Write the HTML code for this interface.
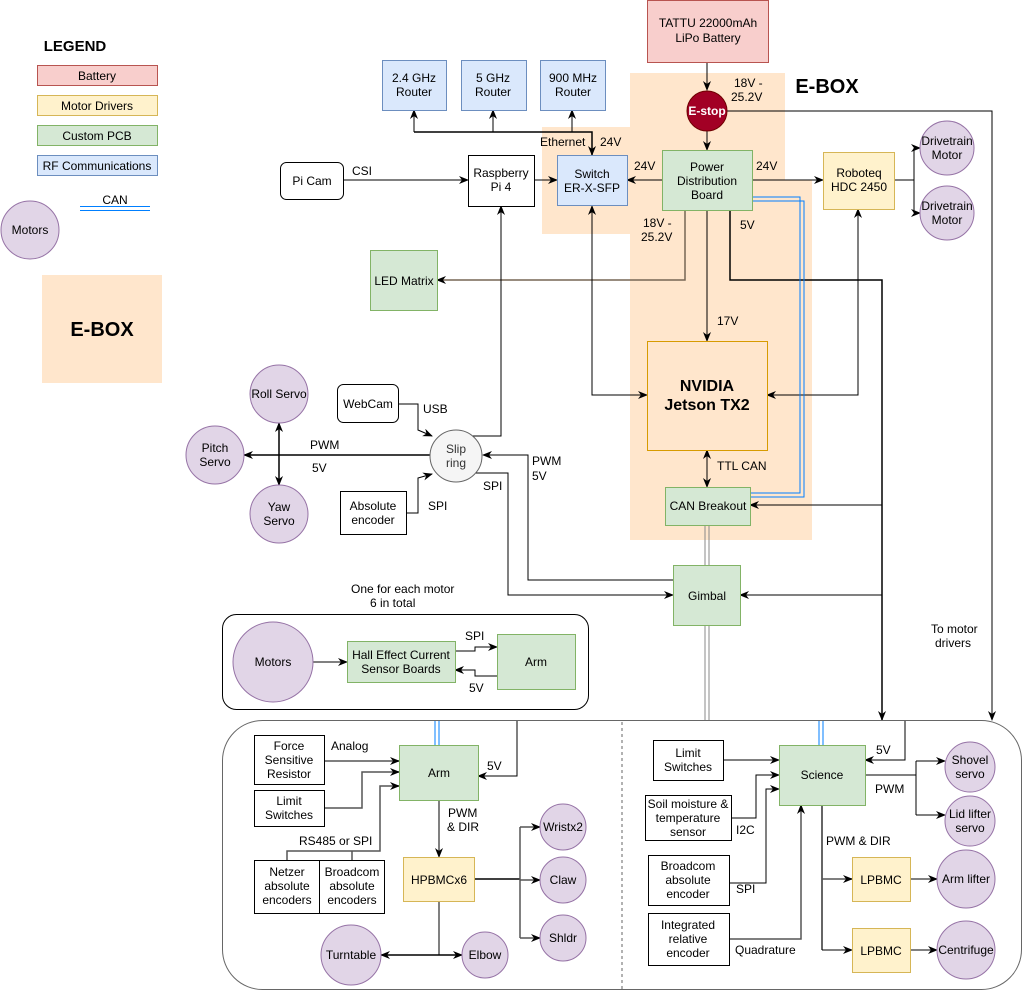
<!DOCTYPE html>
<html><head><meta charset="utf-8"><style>
html,body{margin:0;padding:0;background:#fff;}
svg{display:block;font-family:"Liberation Sans",sans-serif;font-size:12px;}
</style></head><body>
<svg width="1023" height="993" viewBox="0 0 1023 993" xmlns="http://www.w3.org/2000/svg">
<defs>
<marker id="a" markerWidth="10" markerHeight="10" refX="9" refY="5" orient="auto-start-reverse" markerUnits="userSpaceOnUse">
<path d="M0,1 L10,5 L0,9 L3,5 Z" fill="#000"/></marker>
</defs>
<!-- E-BOX background -->
<polygon points="630,73 785,73 785,180 812,180 812,540 630,540 630,234 542,234 542,127 630,127" fill="#ffe6cc"/>
<text x="827" y="93" font-size="20" font-weight="bold" text-anchor="middle">E-BOX</text>

<!-- Legend -->
<text x="75" y="51" font-size="15" font-weight="bold" text-anchor="middle">LEGEND</text>
<rect x="37.5" y="65.5" width="120" height="20" fill="#f8cecc" stroke="#b85450"/><text x="97" y="80" text-anchor="middle">Battery</text>
<rect x="37.5" y="95.5" width="120" height="20" fill="#fff2cc" stroke="#d6b656"/><text x="97" y="110" text-anchor="middle">Motor Drivers</text>
<rect x="37.5" y="125.5" width="120" height="20" fill="#d5e8d4" stroke="#82b366"/><text x="97" y="140" text-anchor="middle">Custom PCB</text>
<rect x="37.5" y="155.5" width="120" height="20" fill="#dae8fc" stroke="#6c8ebf"/><text x="97" y="170" text-anchor="middle">RF Communications</text>
<text x="115" y="204" text-anchor="middle">CAN</text>
<line x1="80" y1="206.5" x2="150" y2="206.5" stroke="#007fff"/><line x1="80" y1="210.5" x2="150" y2="210.5" stroke="#007fff"/>
<circle cx="30" cy="230" r="29" fill="#e1d5e7" stroke="#9673a6"/><text x="30" y="234" text-anchor="middle">Motors</text>
<rect x="42" y="275" width="120" height="108" fill="#ffe6cc"/><text x="102" y="336" font-size="20" font-weight="bold" text-anchor="middle">E-BOX</text>

<g fill="none" stroke="#000" stroke-width="1">
<!-- battery to estop -->
<path d="M707,63 V90" marker-end="url(#a)"/>
<path d="M707,131 V150" marker-end="url(#a)"/>
<path d="M727,111 H992 V720" marker-end="url(#a)"/>
<!-- PDB -->
<path d="M662,180 H627" marker-end="url(#a)"/>
<path d="M752,180 H823" marker-end="url(#a)"/>
<path d="M685,210 V280 H437" stroke="#776655" stroke-width="1.5" marker-end="url(#a)"/>
<path d="M707,210 V341" marker-end="url(#a)"/>
<path d="M730,210 V280 H882 V720" stroke-width="1.5" marker-end="url(#a)"/>
<path d="M882,505 H750" marker-end="url(#a)"/>
<path d="M882,595 H740" marker-end="url(#a)"/>
<!-- routers -->
<path d="M414,132 H592 V155" stroke-width="1.5" marker-end="url(#a)"/>
<path d="M414,132 V110" marker-end="url(#a)"/>
<path d="M493,132 V110" marker-end="url(#a)"/>
<path d="M572,132 V110" marker-end="url(#a)"/>
<path d="M534,180 H557" marker-end="url(#a)"/>
<path d="M343,180 H468" marker-end="url(#a)"/>
<path d="M592,206 V395 H647" marker-start="url(#a)" marker-end="url(#a)"/>
<path d="M858,209 V395 H767" marker-start="url(#a)" marker-end="url(#a)"/>
<path d="M707,450 V487" marker-start="url(#a)" marker-end="url(#a)"/>
<!-- drivetrain -->
<path d="M894,180 H914"/>
<path d="M914,148 V213"/>
<path d="M914,148 H920" marker-end="url(#a)"/>
<path d="M914,213 H920" marker-end="url(#a)"/>
<!-- slip ring -->
<path d="M466,436 H501 V206" marker-end="url(#a)"/>
<path d="M673,580 H528 V455 H483" marker-end="url(#a)"/>
<path d="M469,473 H508 V595 H673" marker-end="url(#a)"/>
<path d="M398,404 H418 V430 L432,436" marker-end="url(#a)"/>
<path d="M406,513 H418 V478 L432,474" marker-end="url(#a)"/>
<path d="M430,455 H244" stroke-width="1.5" marker-end="url(#a)"/>
<path d="M279,423 V485" stroke-width="1.5" marker-start="url(#a)" marker-end="url(#a)"/>
<!-- hall -->
<path d="M313,662 H347" marker-end="url(#a)"/>
<path d="M455,651 H475 V647 H497" marker-end="url(#a)"/>
<path d="M497,676 H475 V670 H455" marker-end="url(#a)"/>
<!-- bottom arm -->
<path d="M324,761 H399" stroke="#555" stroke-width="1.5" marker-end="url(#a)"/>
<path d="M324,808 H362 V772 H399" stroke="#555" stroke-width="1.5" marker-end="url(#a)"/>
<path d="M287,860 V851 H380 V786 H399" stroke="#555" stroke-width="1.5" marker-end="url(#a)"/>
<path d="M352,860 V851" stroke="#555" stroke-width="1.5"/>
<path d="M517,720 V776 H478" marker-end="url(#a)"/>
<path d="M439,800 V857" marker-end="url(#a)"/>
<path d="M474,879 H520" stroke-width="1.5"/>
<path d="M520,827 V938" stroke="#555" stroke-width="1.5"/>
<path d="M520,827 H540" stroke="#555" stroke-width="1.5" marker-end="url(#a)"/>
<path d="M520,880 H540" stroke="#555" stroke-width="1.5" marker-end="url(#a)"/>
<path d="M520,938 H540" stroke="#555" stroke-width="1.5" marker-end="url(#a)"/>
<path d="M439,901 V955"/>
<path d="M439,955 H381" stroke-width="1.5" marker-end="url(#a)"/>
<path d="M439,955 H462" stroke-width="1.5" marker-end="url(#a)"/>
<!-- science -->
<path d="M905,720 V760 H865" marker-end="url(#a)"/>
<path d="M723,760 H779" marker-end="url(#a)"/>
<path d="M731,818 H756 V775 H779" marker-end="url(#a)"/>
<path d="M729,883 H766 V789 H779" marker-end="url(#a)"/>
<path d="M729,939 H801 V805" stroke="#555" stroke-width="1.5" marker-end="url(#a)"/>
<path d="M865,775 H916"/>
<path d="M916,761 V815"/>
<path d="M916,761 H945" marker-end="url(#a)"/>
<path d="M916,815 H945" marker-end="url(#a)"/>
<path d="M822,805 V950" stroke="#333" stroke-width="1.5"/>
<path d="M822,879 H852" stroke="#555" stroke-width="1.5" marker-end="url(#a)"/>
<path d="M822,950 H852" marker-end="url(#a)"/>
<path d="M910,879 H937" stroke="#555" stroke-width="1.5" marker-end="url(#a)"/>
<path d="M910,950 H937" marker-end="url(#a)"/>
</g>
<!-- CAN lines -->
<g fill="none" stroke="#007fff">
<path d="M752,197 H800 V493 H750"/>
<path d="M752,201 H804 V497 H750"/>
<path d="M435,720 V745"/><path d="M439,720 V745"/>
<path d="M819,720 V745"/><path d="M823,720 V745"/>
</g>
<g fill="none" stroke="#888"><path d="M705,525 V720"/><path d="M709,525 V720"/></g>

<!-- containers -->
<rect x="222.5" y="614.5" width="366" height="95" rx="14" fill="none" stroke="#000"/>
<rect x="222.5" y="720.5" width="799" height="269" rx="40" fill="none" stroke="#666"/>
<line x1="622" y1="722" x2="622" y2="990" stroke="#666" stroke-dasharray="3,3"/>

<!-- nodes -->
<g stroke-width="1">
<rect x="647.5" y="0.5" width="121" height="62" fill="#f8cecc" stroke="#b85450"/>
<circle cx="707" cy="111" r="20" fill="#a20025" stroke="#6f0000"/>
<rect x="662.5" y="150.5" width="90" height="60" fill="#d5e8d4" stroke="#82b366"/>
<rect x="557.5" y="155.5" width="70" height="50" fill="#dae8fc" stroke="#6c8ebf"/>
<rect x="382.5" y="60.5" width="64" height="50" fill="#dae8fc" stroke="#6c8ebf"/>
<rect x="461.5" y="60.5" width="65" height="50" fill="#dae8fc" stroke="#6c8ebf"/>
<rect x="540.5" y="60.5" width="65" height="50" fill="#dae8fc" stroke="#6c8ebf"/>
<rect x="468.5" y="155.5" width="66" height="51" fill="#fff" stroke="#000"/>
<rect x="280.5" y="162.5" width="63" height="37" rx="6" fill="#fff" stroke="#000"/>
<rect x="823.5" y="152.5" width="71" height="57" fill="#fff2cc" stroke="#d6b656"/>
<circle cx="947" cy="148" r="27" fill="#e1d5e7" stroke="#9673a6"/>
<circle cx="947" cy="213" r="27" fill="#e1d5e7" stroke="#9673a6"/>
<rect x="370.5" y="250.5" width="67" height="60" fill="#d5e8d4" stroke="#82b366"/>
<rect x="647.5" y="341.5" width="120" height="109" fill="#ffe6cc" stroke="#d79b00"/>
<rect x="665.5" y="487.5" width="85" height="38" fill="#d5e8d4" stroke="#82b366"/>
<rect x="673.5" y="565.5" width="67" height="60" fill="#d5e8d4" stroke="#82b366"/>
<circle cx="456" cy="456" r="26" fill="#f5f5f5" stroke="#666"/>
<rect x="337.5" y="384.5" width="61" height="38" rx="6" fill="#fff" stroke="#000"/>
<rect x="340.5" y="491.5" width="66" height="43" fill="#fff" stroke="#000"/>
<circle cx="279" cy="394" r="29" fill="#e1d5e7" stroke="#9673a6"/>
<circle cx="215" cy="455" r="29" fill="#e1d5e7" stroke="#9673a6"/>
<circle cx="279" cy="514" r="29" fill="#e1d5e7" stroke="#9673a6"/>
<circle cx="273" cy="662" r="40" fill="#e1d5e7" stroke="#9673a6"/>
<rect x="347.5" y="641.5" width="108" height="41" fill="#d5e8d4" stroke="#82b366"/>
<rect x="497.5" y="634.5" width="78" height="55" fill="#d5e8d4" stroke="#82b366"/>
<rect x="399.5" y="745.5" width="79" height="55" fill="#d5e8d4" stroke="#82b366"/>
<rect x="254.5" y="735.5" width="70" height="49" fill="#fff" stroke="#000"/>
<rect x="254.5" y="790.5" width="70" height="36" fill="#fff" stroke="#000"/>
<rect x="254.5" y="860.5" width="65" height="53" fill="#fff" stroke="#000"/>
<rect x="319.5" y="860.5" width="65" height="53" fill="#fff" stroke="#000"/>
<rect x="403.5" y="857.5" width="71" height="44" fill="#fff2cc" stroke="#d6b656"/>
<circle cx="351" cy="955" r="30" fill="#e1d5e7" stroke="#9673a6"/>
<circle cx="485" cy="955" r="23" fill="#e1d5e7" stroke="#9673a6"/>
<circle cx="563" cy="827" r="23" fill="#e1d5e7" stroke="#9673a6"/>
<circle cx="563" cy="880" r="23" fill="#e1d5e7" stroke="#9673a6"/>
<circle cx="563" cy="938" r="23" fill="#e1d5e7" stroke="#9673a6"/>
<rect x="779.5" y="745.5" width="86" height="60" fill="#d5e8d4" stroke="#82b366"/>
<rect x="653.5" y="740.5" width="70" height="40" fill="#fff" stroke="#000"/>
<rect x="645.5" y="795.5" width="86" height="45" fill="#fff" stroke="#000"/>
<rect x="648.5" y="855.5" width="81" height="50" fill="#fff" stroke="#000"/>
<rect x="648.5" y="913.5" width="81" height="52" fill="#fff" stroke="#000"/>
<rect x="852.5" y="857.5" width="58" height="44" fill="#fff2cc" stroke="#d6b656"/>
<rect x="852.5" y="928.5" width="58" height="44" fill="#fff2cc" stroke="#d6b656"/>
<circle cx="970" cy="767" r="25" fill="#e1d5e7" stroke="#9673a6"/>
<circle cx="970" cy="821" r="25" fill="#e1d5e7" stroke="#9673a6"/>
<circle cx="966" cy="879" r="29" fill="#e1d5e7" stroke="#9673a6"/>
<circle cx="966" cy="950" r="29" fill="#e1d5e7" stroke="#9673a6"/>
</g>

<!-- node text -->
<g text-anchor="middle" fill="#000">
<text x="708" y="27">TATTU 22000mAh</text><text x="708" y="42">LiPo Battery</text>
<text x="707" y="115" fill="#fff" font-weight="bold">E-stop</text>
<text x="707" y="171">Power</text><text x="707" y="185">Distribution</text><text x="707" y="199">Board</text>
<text x="592" y="178">Switch</text><text x="592" y="192">ER-X-SFP</text>
<text x="414" y="82">2.4 GHz</text><text x="414" y="96">Router</text>
<text x="493" y="82">5 GHz</text><text x="493" y="96">Router</text>
<text x="573" y="82">900 MHz</text><text x="573" y="96">Router</text>
<text x="501" y="177">Raspberry</text><text x="501" y="191">Pi 4</text>
<text x="312" y="185">Pi Cam</text>
<text x="859" y="177">Roboteq</text><text x="859" y="191">HDC 2450</text>
<text x="947" y="145">Drivetrain</text><text x="947" y="159">Motor</text>
<text x="947" y="210">Drivetrain</text><text x="947" y="224">Motor</text>
<text x="404" y="285">LED Matrix</text>
<text x="707" y="391" font-size="16" font-weight="bold">NVIDIA</text><text x="707" y="410" font-size="16" font-weight="bold">Jetson TX2</text>
<text x="708" y="510">CAN Breakout</text>
<text x="707" y="600">Gimbal</text>
<text x="456" y="453" fill="#333">Slip</text><text x="456" y="467" fill="#333">ring</text>
<text x="368" y="408">WebCam</text>
<text x="373" y="510">Absolute</text><text x="373" y="524">encoder</text>
<text x="279" y="398">Roll Servo</text>
<text x="215" y="452">Pitch</text><text x="215" y="466">Servo</text>
<text x="279" y="511">Yaw</text><text x="279" y="525">Servo</text>
<text x="273" y="666">Motors</text>
<text x="401" y="659">Hall Effect Current</text><text x="401" y="673">Sensor Boards</text>
<text x="536" y="666">Arm</text>
<text x="439" y="777">Arm</text>
<text x="289" y="750">Force</text><text x="289" y="764">Sensitive</text><text x="289" y="778">Resistor</text>
<text x="289" y="805">Limit</text><text x="289" y="819">Switches</text>
<text x="287" y="876">Netzer</text><text x="287" y="890">absolute</text><text x="287" y="904">encoders</text>
<text x="352" y="876">Broadcom</text><text x="352" y="890">absolute</text><text x="352" y="904">encoders</text>
<text x="439" y="884">HPBMCx6</text>
<text x="351" y="959">Turntable</text>
<text x="485" y="959">Elbow</text>
<text x="563" y="831">Wristx2</text>
<text x="563" y="884">Claw</text>
<text x="563" y="942">Shldr</text>
<text x="822" y="779">Science</text>
<text x="688" y="757">Limit</text><text x="688" y="771">Switches</text>
<text x="688" y="808">Soil moisture &amp;</text><text x="688" y="822">temperature</text><text x="688" y="836">sensor</text>
<text x="688" y="870">Broadcom</text><text x="688" y="884">absolute</text><text x="688" y="898">encoder</text>
<text x="688" y="929">Integrated</text><text x="688" y="943">relative</text><text x="688" y="957">encoder</text>
<text x="881" y="884">LPBMC</text><text x="881" y="955">LPBMC</text>
<text x="970" y="764">Shovel</text><text x="970" y="778">servo</text>
<text x="970" y="818">Lid lifter</text><text x="970" y="832">servo</text>
<text x="966" y="883">Arm lifter</text>
<text x="966" y="954">Centrifuge</text>
</g>

<!-- labels -->
<g fill="#000">
<text x="734" y="87">18V -</text><text x="731" y="101">25.2V</text>
<text x="634" y="170">24V</text>
<text x="756" y="170">24V</text>
<text x="540" y="146">Ethernet</text><text x="600" y="146">24V</text>
<text x="643" y="227">18V -</text><text x="641" y="241">25.2V</text>
<text x="740" y="229">5V</text>
<text x="717" y="325">17V</text>
<text x="717" y="470">TTL CAN</text>
<text x="352" y="175">CSI</text>
<text x="423" y="413">USB</text>
<text x="428" y="510">SPI</text>
<text x="310" y="449">PWM</text><text x="312" y="472">5V</text>
<text x="532" y="465">PWM</text><text x="532" y="480">5V</text>
<text x="483" y="490">SPI</text>
<text x="351" y="593">One for each motor</text><text x="370" y="607">6 in total</text>
<text x="465" y="640">SPI</text><text x="469" y="692">5V</text>
<text x="931" y="633">To motor</text><text x="935" y="647">drivers</text>
<text x="331" y="750">Analog</text>
<text x="299" y="845">RS485 or SPI</text>
<text x="487" y="770">5V</text>
<text x="448" y="817">PWM</text><text x="447" y="831">&amp; DIR</text>
<text x="876" y="754">5V</text>
<text x="875" y="793">PWM</text>
<text x="826" y="845">PWM &amp; DIR</text>
<text x="736" y="834">I2C</text>
<text x="736" y="893">SPI</text>
<text x="735" y="954">Quadrature</text>
</g>
</svg>
</body></html>
